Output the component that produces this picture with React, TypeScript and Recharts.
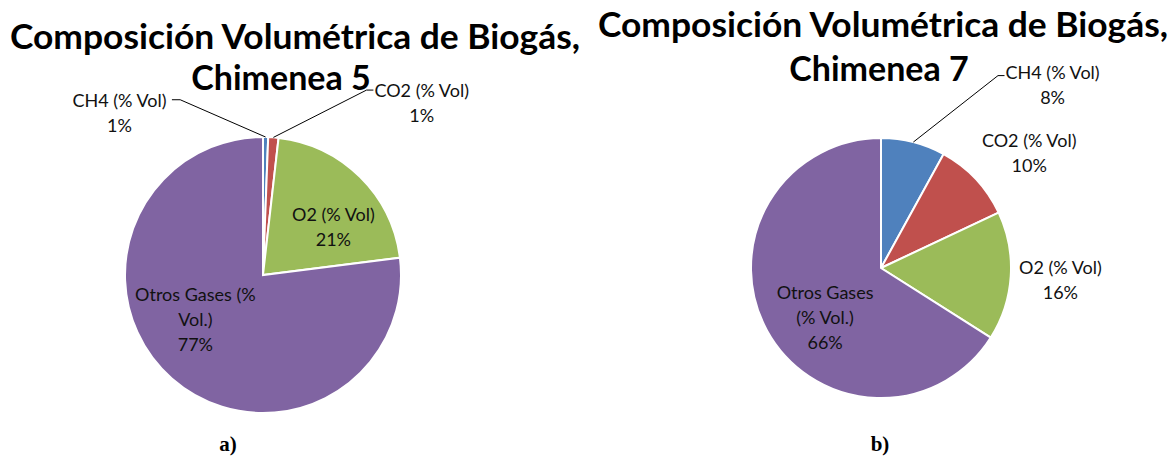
import { PieChart, Pie, Cell } from "recharts";

// Composición volumétrica (% Vol) por chimenea
const gases = ["CH4 (% Vol)", "CO2 (% Vol)", "O2 (% Vol)", "Otros Gases (% Vol.)"];
const chimenea5 = [0.6, 1.2, 21.2, 77.0];
const chimenea7 = [8, 10, 16, 66];

const colors = ["#4F81BD", "#C0504D", "#9BBB59", "#8064A2"];

// texto de cada etiqueta (la última línea es el porcentaje)
const labels5 = [["CH4 (% Vol)"], ["CO2 (% Vol)"], ["O2 (% Vol)"], ["Otros Gases (%", "Vol.)"]];
const labels7 = [["CH4 (% Vol)"], ["CO2 (% Vol)"], ["O2 (% Vol)"], ["Otros Gases", "(% Vol.)"]];

// posición de etiquetas relativa al centro, en unidades del radio
// elbow: punto donde la línea guía cambia a horizontal
type LabelPos = { dx: number; dy: number; elbow?: [number, number, number] };
const pos5: LabelPos[] = [
  { dx: -1.04, dy: -1.18, elbow: [-0.6, -1.27, -0.66] },
  { dx: 1.15, dy: -1.25, elbow: [0.75, -1.34, 0.8] },
  { dx: 0.51, dy: -0.35 },
  { dx: -0.49, dy: 0.32 },
];
const pos7: LabelPos[] = [
  { dx: 1.32, dy: -1.41, elbow: [0.9, -1.48, 0.95] },
  { dx: 1.14, dy: -0.89 },
  { dx: 1.38, dy: 0.09 },
  { dx: -0.43, dy: 0.38 },
];

const FONT = "Lato, 'Liberation Sans', sans-serif";
const LINE_H = 25;

const toData = (values: number[]) => gases.map((name, i) => ({ name, value: values[i] }));

function makeLabel(texts: string[][], positions: LabelPos[]) {
  return (props: any) => {
    const { cx, cy, midAngle, outerRadius, index, percent } = props;
    const p = positions[index];
    const r = outerRadius;
    const lines = [...texts[index], `${Math.round(percent * 100)}%`];
    const tx = cx + p.dx * r;
    const ty = cy + p.dy * r;
    const rad = (-midAngle * Math.PI) / 180;
    let leader = null;
    if (p.elbow) {
      const ex = cx + r * Math.cos(rad);
      const ey = cy + r * Math.sin(rad);
      const [bx, by, hx] = p.elbow;
      leader = (
        <polyline
          points={`${ex},${ey} ${cx + bx * r},${cy + by * r} ${cx + hx * r},${cy + by * r}`}
          fill="none"
          stroke="#000"
          strokeWidth={1}
        />
      );
    }
    const top = ty - ((lines.length - 1) * LINE_H) / 2;
    return (
      <g>
        {leader}
        <text
          x={tx}
          y={top}
          textAnchor="middle"
          dominantBaseline="central"
          fontFamily={FONT}
          fontSize={18}
          fill="#111"
        >
          {lines.map((l, i) => (
            <tspan key={i} x={tx} y={top + i * LINE_H}>
              {l}
            </tspan>
          ))}
        </text>
      </g>
    );
  };
}

export default function App() {
  return (
    <div style={{ position: "absolute", left: 0, top: 0, width: 1176, height: 456, background: "#fff" }}>
      <PieChart width={1176} height={456} margin={{ top: 0, right: 0, bottom: 0, left: 0 }}>
        <Pie
          data={toData(chimenea5)}
          dataKey="value"
          nameKey="name"
          cx={263}
          cy={275}
          outerRadius={138}
          startAngle={90}
          endAngle={-270}
          stroke="#fff"
          strokeWidth={2}
          label={makeLabel(labels5, pos5)}
          labelLine={false}
          isAnimationActive={false}
        >
          {colors.map((c, i) => (
            <Cell key={i} fill={c} />
          ))}
        </Pie>
        <Pie
          data={toData(chimenea7)}
          dataKey="value"
          nameKey="name"
          cx={881}
          cy={268}
          outerRadius={130}
          startAngle={90}
          endAngle={-270}
          stroke="#fff"
          strokeWidth={2}
          label={makeLabel(labels7, pos7)}
          labelLine={false}
          isAnimationActive={false}
        >
          {colors.map((c, i) => (
            <Cell key={i} fill={c} />
          ))}
        </Pie>
      </PieChart>
      <svg width={1176} height={456} style={{ position: "absolute", left: 0, top: 0, pointerEvents: "none" }}>
        <g fontFamily={FONT} fontWeight="bold" fontSize={34} fill="#000" textAnchor="middle">
          <text x={295} y={49} textLength={570} lengthAdjust="spacingAndGlyphs">
            Composición Volumétrica de Biogás,
          </text>
          <text x={281} y={90}>Chimenea 5</text>
          <text x={883} y={37} textLength={570} lengthAdjust="spacingAndGlyphs">
            Composición Volumétrica de Biogás,
          </text>
          <text x={879} y={81}>Chimenea 7</text>
        </g>
        <g fontFamily="'Liberation Serif', 'DejaVu Serif', serif" fontWeight="bold" fontSize={21} fill="#000" textAnchor="middle">
          <text x={228} y={451}>a)</text>
          <text x={880} y={451}>b)</text>
        </g>
      </svg>
    </div>
  );
}
